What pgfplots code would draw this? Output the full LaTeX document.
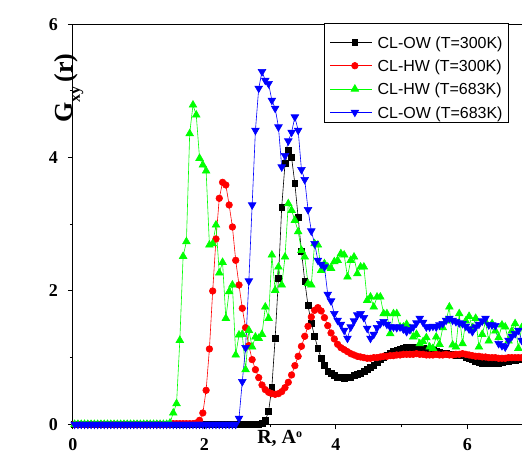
\documentclass[border=0pt]{standalone}
\usepackage{pgfplots}
\pgfplotsset{compat=1.18}
\usepackage{pgfplotstable}
\usepackage{fontspec}
\setmainfont{Liberation Serif}
\newfontfamily\legendfont{Liberation Sans}

% Radial distribution functions, bin centres every 0.05 A
\pgfplotstableread{
R      OW300  HW300  HW683  OW683
0.025  0      0      0      0
0.075  0      0      0      0
0.125  0      0      0      0
0.175  0      0      0      0
0.225  0      0      0      0
0.275  0      0      0      0
0.325  0      0      0      0
0.375  0      0      0      0
0.425  0      0      0      0
0.475  0      0      0      0
0.525  0      0      0      0
0.575  0      0      0      0
0.625  0      0      0      0
0.675  0      0      0      0
0.725  0      0      0      0
0.775  0      0      0      0
0.825  0      0      0      0
0.875  0      0      0      0
0.925  0      0      0      0
0.975  0      0      0      0
1.025  0      0      0      0
1.075  0      0      0      0
1.125  0      0      0      0
1.175  0      0      0      0
1.225  0      0      0      0
1.275  0      0      0      0
1.325  0      0      0      0
1.375  0      0      0      0
1.425  0      0      0      0
1.475  0      0      0.02   0
1.525  0      0.01   0.17   0
1.575  0      0.01   0.31   0
1.625  0      0.01   1.26   0
1.675  0      0.01   2.52   0
1.725  0      0.01   2.74   0
1.775  0      0.01   4.36   0
1.825  0      0.01   4.79   0
1.875  0      0.02   4.64   0
1.925  0      0.06   3.99   0
1.975  0      0.17   3.89   0
2.025  0      0.51   3.80   0
2.075  0      1.13   2.69   0
2.125  0      2.00   2.71   0
2.175  0      2.78   2.99   0
2.225  0      3.39   2.27   0
2.275  0      3.63   2.43   0
2.325  0      3.59   1.59   0
2.375  0      3.29   1.99   0
2.425  0      2.96   2.09   0
2.475  0      2.46   1.04   0
2.525  0      2.09   1.34   0.09
2.575  0      1.74   1.35   0.64
2.625  0      1.45   0.82   1.15
2.675  0      1.18   1.41   2.15
2.725  0      0.97   1.16   3.29
2.775  0      0.82   1.31   4.41
2.825  0      0.70   1.29   5.04
2.875  0.02   0.59   1.35   5.29
2.925  0.06   0.52   1.76   5.16
2.975  0.19   0.48   1.59   5.11
3.025  0.56   0.46   2.54   4.86
3.075  1.29   0.45   2.01   4.74
3.125  2.19   0.46   2.36   4.46
3.175  3.26   0.49   2.09   3.86
3.225  3.91   0.55   2.51   4.03
3.275  4.11   0.63   3.31   4.25
3.325  4.00   0.74   3.21   4.38
3.375  3.61   0.88   3.06   4.61
3.425  3.10   1.02   2.89   4.41
3.475  2.60   1.17   2.61   3.82
3.525  2.15   1.32   2.51   3.67
3.575  1.78   1.47   2.11   3.22
3.625  1.52   1.61   2.09   2.90
3.675  1.32   1.71   2.71   2.71
3.725  1.14   1.75   2.69   2.46
3.775  0.99   1.70   2.31   2.40
3.825  0.88   1.60   2.41   2.36
3.875  0.80   1.48   2.36   1.95
3.925  0.76   1.37   2.34   1.85
3.975  0.73   1.28   2.44   1.66
4.025  0.71   1.20   2.46   1.56
4.075  0.70   1.15   2.56   1.50
4.125  0.69   1.12   2.54   1.41
4.175  0.70   1.09   2.21   1.29
4.225  0.71   1.06   2.46   1.46
4.275  0.73   1.04   2.51   1.55
4.325  0.75   1.02   2.26   1.64
4.375  0.77   1.01   2.36   1.66
4.425  0.80   1.00   2.36   1.60
4.475  0.83   0.99   1.86   1.44
4.525  0.86   0.99   1.91   1.29
4.575  0.89   1.00   1.76   1.35
4.625  0.93   1.00   1.91   1.45
4.675  0.97   1.01   1.91   1.51
4.725  1.01   1.02   1.66   1.54
4.775  1.04   1.02   1.66   1.50
4.825  1.07   1.03   1.36   1.46
4.875  1.09   1.03   1.66   1.46
4.925  1.11   1.04   1.66   1.45
4.975  1.13   1.04   1.46   1.46
5.025  1.14   1.05   1.46   1.43
5.075  1.15   1.05   1.50   1.39
5.125  1.16   1.05   1.44   1.42
5.175  1.15   1.05   1.31   1.46
5.225  1.15   1.06   1.35   1.52
5.275  1.14   1.05   1.21   1.59
5.325  1.14   1.05   1.24   1.53
5.375  1.13   1.04   1.30   1.46
5.425  1.12   1.04   1.16   1.46
5.475  1.11   1.04   1.14   1.47
5.525  1.10   1.05   1.31   1.46
5.575  1.08   1.04   1.20   1.49
5.625  1.07   1.04   1.45   1.51
5.675  1.06   1.05   1.55   1.56
5.725  1.05   1.04   1.76   1.59
5.775  1.05   1.04   1.19   1.56
5.825  1.04   1.05   1.16   1.54
5.875  1.04   1.05   1.66   1.52
5.925  1.03   1.06   1.21   1.51
5.975  1.01   1.05   1.55   1.47
6.025  0.99   1.04   1.62   1.43
6.075  0.97   1.03   1.45   1.39
6.125  0.95   1.02   1.59   1.46
6.175  0.93   1.02   1.16   1.50
6.225  0.92   1.01   1.35   1.55
6.275  0.92   1.01   1.54   1.59
6.325  0.91   1.00   1.25   1.49
6.375  0.91   1.00   1.51   1.49
6.425  0.92   1.00   1.40   1.48
6.475  0.92   0.99   1.30   1.21
6.525  0.93   0.99   1.49   1.18
6.575  0.94   0.99   1.46   1.16
6.625  0.95   1.00   1.25   1.26
6.675  0.96   1.00   1.40   1.32
6.725  0.96   1.00   1.51   1.36
6.775  0.97   1.00   1.14   1.41
6.825  0.97   1.00   1.45   1.26
}\rdf

\begin{document}
\begin{tikzpicture}
\useasboundingbox (-73pt,-31.7pt) rectangle (449pt,424.3pt);
\begin{axis}[
  at={(0pt,0pt)}, anchor=south west,
  scale only axis, width=449pt, height=400pt,
  xmin=0, xmax=6.83, ymin=0, ymax=6,
  axis x line*=bottom, axis y line*=left,
  axis line style={line width=1pt, -},
  x axis line style={-}, y axis line style={-},
  xtick={0,2,4,6}, ytick={0,2,4,6},
  minor xtick={1,3,5}, minor ytick={1,3,5},
  tick align=outside, major tick length=5pt, minor tick length=3pt,
  every tick/.style={line width=1pt, black},
  /pgf/number format/assume math mode=true,
  tick label style={font=\fontsize{18}{18}\selectfont\bfseries, inner sep=0pt},
  xticklabel style={anchor=north, yshift=-9.5pt},
  yticklabel style={anchor=east, xshift=-10pt},
  xlabel={\fontsize{20}{20}\selectfont\bfseries R, A{\fontsize{12}{12}\selectfont\raisebox{1.0ex}{o}}},
  xlabel style={at={(rel axis cs:0.41,0)}, anchor=base west, yshift=-18.7pt, inner sep=0pt},
  ylabel={\fontsize{26}{26}\selectfont\bfseries G\raisebox{-7pt}{\fontsize{16}{16}\selectfont xy}\,(r)},
  ylabel style={at={(rel axis cs:0,0.848)}, anchor=base west, xshift=-38pt, inner sep=0pt},
  clip=false,
  legend image code/.code={%
    \path (-7pt,5.7pt) -- (35pt,5.7pt);
    \draw[mark repeat=2, mark phase=2, #1] plot coordinates {(0pt,5.7pt) (17.5pt,5.7pt) (35pt,5.7pt)};},
  legend style={at={(rel axis cs:0.971,1)}, anchor=north east, yshift=1pt,
    draw=black, line width=0.8pt, inner xsep=6pt, inner ysep=4.4pt,
    font=\legendfont\fontsize{16}{16}\selectfont,
    cells={anchor=base west},
    nodes={inner sep=0pt, text height=20pt, text depth=0pt},
    column sep=5pt, row sep=3.3pt},
]
\addplot[black, line width=0.6pt, mark=square*, mark size=2.9pt,
  mark options={solid}] table[x=R, y=OW300] {\rdf};
\addlegendentry{CL-OW (T=300K)}
\addplot[red, line width=0.6pt, mark=*, mark size=3.3pt,
  mark options={solid}] table[x=R, y=HW300] {\rdf};
\addlegendentry{CL-HW (T=300K)}
\addplot[green, line width=0.6pt, mark=triangle*, mark size=4.4pt,
  mark options={solid}] table[x=R, y=HW683] {\rdf};
\addlegendentry{CL-HW (T=683K)}
\addplot[blue, line width=0.6pt, mark=triangle*, mark size=4.4pt,
  mark options={solid, rotate=180}] table[x=R, y=OW683] {\rdf};
\addlegendentry{CL-OW (T=683K)}
\draw[line width=1pt] (rel axis cs:0,1) -- (rel axis cs:1,1);
\end{axis}
\end{tikzpicture}
\end{document}
